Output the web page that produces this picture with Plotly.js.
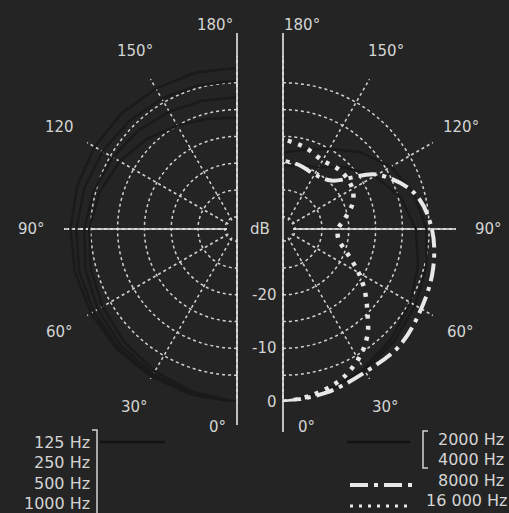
<!DOCTYPE html>
<html><head><meta charset="utf-8">
<script src="https://cdn.plot.ly/plotly-3.0.1.min.js"></script>
<style>html,body{margin:0;padding:0;background:#242424;}#c{width:509px;height:513px;}</style>
</head><body><div id="c"></div>
<script>
// ---- data (dB relative to 0°, angle in degrees from the front axis) ----
const thetaLow = [0,15,30,45,60,75,90,105,120,135,150,165,180];
const hz125  = [0,-0.2,-0.4,-0.6,-0.8,-1.0,-1.2,-1.4,-1.6,-1.8,-2.0,-2.1,-2.2];
const hz250  = [0,-0.3,-0.6,-1.0,-1.4,-1.8,-2.3,-2.8,-3.3,-3.8,-4.2,-4.5,-4.6];
const hz500  = [0,-0.5,-1.0,-1.6,-2.3,-3.0,-3.8,-4.6,-5.5,-6.3,-7.0,-7.5,-7.7];
const hz1000 = [0,-0.8,-1.6,-2.5,-3.3,-4.0,-4.7,-5.7,-7.0,-8.5,-10.0,-11.0,-11.5];

const thetaHigh = [0,15,30,45,60,75,90,105,120,135,150,165,180];
const hz2000 = [0,-0.8,-1.8,-2.8,-3.8,-4.6,-5.5,-7.0,-9.0,-12.0,-15.0,-17.0,-18.0];
const hz4000 = [0,-1.0,-2.2,-3.5,-4.8,-6.2,-7.5,-9.5,-12.5,-16.0,-19.0,-20.0,-20.5];
const hz8000 = [0,-0.7,-1.5,-1.5,-2.5,-3.3,-4.5,-6.8,-12.0,-19.5,-20.5,-20.0,-19.5];

const theta16k = [0,10,20,25,30,35,40,45,50,55,60,65,70,75,80,90,100,110,120,135,150,165,180];
const hz16000 = [0,-0.8,-2.0,-3.0,-4.2,-5.7,-7.6,-10.0,-12.0,-14.0,-16.0,-18.0,-19.7,-21.0,-21.8,-22.0,-20.5,-18.5,-17.3,-17.0,-17.5,-16.5,-15.5];

const angleTicks = [0,30,60,90,120,150,180];
const angleTextLeft  = ['0°','30°','60°','90°','120','150°','180°'];
const angleTextRight = ['0°','30°','60°','90°','120°','150°','180°'];
const dbTicks = [-30,-25,-20,-15,-10,-5,0];
const dbLabelVals = [-20,-10,0];
const dbLabelText = ['-20','-10','0'];
const legendLeft  = ['125 Hz','250 Hz','500 Hz','1000 Hz'];
const legendRight = ['2000 Hz','4000 Hz','8000 Hz','16 000 Hz'];

// ---- layout geometry (pixels) ----
const W=509, H=513, CXL=237, CXR=283, CY=229, R=173;
const RMIN=-30.4, HOLE=0.058;
const px = x => x/W, py = y => 1 - y/H;
const TXT = '#d4d4d4', GRID = '#d2d2d2', LINE = '#e8e8e8', FONT = 'DejaVu Sans, sans-serif';
const mir = a => a.map(v => 360 - v);   // left half runs clockwise: mirror the angles

function polarLayout(xd, sector, ticks){
  return {
    domain:{x:xd, y:[py(CY+R), py(CY-R)]},
    sector: sector, hole: HOLE, bgcolor:'rgba(0,0,0,0)',
    angularaxis:{rotation:270, direction:'counterclockwise', tickvals:ticks, showticklabels:false, ticks:'',
      showline:false, gridcolor:GRID, gridwidth:1.5, griddash:'dot'},
    radialaxis:{range:[RMIN,0], tickvals:dbTicks, showticklabels:false, ticks:'',
      showline:false, gridcolor:GRID, gridwidth:1.5, griddash:'dot'}
  };
}

const black = {color:'#1a1a1a', width:2.4};
const traces = [
  {type:'scatterpolar', subplot:'polar', r:[RMIN,0], theta:mir([90,90]), mode:'lines', line:{color:LINE,width:1.5}, hoverinfo:'skip'},
  {type:'scatterpolar', subplot:'polar2', r:[RMIN,0], theta:[90,90], mode:'lines', line:{color:LINE,width:1.5}, hoverinfo:'skip'},
  {type:'scatterpolar', subplot:'polar', name:'125 Hz', r:hz125, theta:mir(thetaLow), mode:'lines', line:black},
  {type:'scatterpolar', subplot:'polar', name:'250 Hz', r:hz250, theta:mir(thetaLow), mode:'lines', line:black},
  {type:'scatterpolar', subplot:'polar', name:'500 Hz', r:hz500, theta:mir(thetaLow), mode:'lines', line:black},
  {type:'scatterpolar', subplot:'polar', name:'1000 Hz', r:hz1000, theta:mir(thetaLow), mode:'lines', line:black},
  {type:'scatterpolar', subplot:'polar2', name:'2000 Hz', r:hz2000, theta:thetaHigh, mode:'lines', line:black},
  {type:'scatterpolar', subplot:'polar2', name:'4000 Hz', r:hz4000, theta:thetaHigh, mode:'lines', line:black},
  {type:'scatterpolar', subplot:'polar2', name:'8000 Hz', r:hz8000, theta:thetaHigh, mode:'lines',
    line:{color:LINE, width:4, dash:'18px,6px,4px,6px', shape:'spline'}},
  {type:'scatterpolar', subplot:'polar2', name:'16 000 Hz', r:hz16000, theta:theta16k, mode:'lines',
    line:{color:LINE, width:4.5, dash:'4px,7px', shape:'spline'}}
];

const ann = [];
const rad = Math.PI/180;
angleTicks.forEach((a,i)=>{
  let xl, xr, y;
  if (a===0){ xl=CXL-20; xr=CXR+23; y=CY+198; }
  else if (a===180){ xl=CXL-22; xr=CXR+19; y=CY-204; }
  else { xl=CXL-205*Math.sin(a*rad); xr=CXR+205*Math.sin(a*rad); y=CY+205*Math.cos(a*rad); }
  ann.push({x:px(xl), y:py(y), text:angleTextLeft[i]});
  ann.push({x:px(xr), y:py(y), text:angleTextRight[i]});
});
// radial dB labels on the front axis of the right half
const rpx = v => R*(HOLE + (1-HOLE)*(v-RMIN)/(0-RMIN));
dbLabelVals.forEach((v,i)=>ann.push({x:px(CXR-4), y:py(CY+rpx(v)), text:dbLabelText[i], xanchor:'right'}));
ann.forEach(a=>Object.assign(a,{xref:'paper',yref:'paper',showarrow:false,yanchor:'middle',font:{family:FONT,size:15,color:TXT}}, a.xanchor?{}:{xanchor:'center'}));
ann.push({x:px((CXL+CXR)/2), y:py(CY), xref:'paper', yref:'paper', showarrow:false, text:'dB', font:{family:FONT,size:15,color:TXT}});
legendLeft.forEach((t,i)=>ann.push({x:px(92), y:py(442+20.5*i), xref:'paper', yref:'paper', showarrow:false, xanchor:'right', yanchor:'middle', text:t, font:{family:FONT,size:16,color:TXT}}));
legendRight.forEach((t,i)=>ann.push({x:px(i===3?424:436), y:py(439+20.5*i), xref:'paper', yref:'paper', showarrow:false, xanchor:'left', yanchor:'middle', text:t, font:{family:FONT,size:16,color:TXT}}));

const shapes = [
  {type:'line', xref:'paper', yref:'paper', x0:px(CXL), x1:px(CXL), y0:py(33), y1:py(425), line:{color:LINE,width:1.6}},
  {type:'line', xref:'paper', yref:'paper', x0:px(CXR), x1:px(CXR), y0:py(33), y1:py(432), line:{color:LINE,width:1.6}},
  {type:'line', xref:'paper', yref:'paper', x0:px(100), x1:px(165), y0:py(442), y1:py(442), line:{color:'#121212',width:2.5}},
  {type:'line', xref:'paper', yref:'paper', x0:px(347), x1:px(410), y0:py(442), y1:py(442), line:{color:'#121212',width:2.5}},
  {type:'line', xref:'paper', yref:'paper', x0:px(350), x1:px(413), y0:py(485), y1:py(485), line:{color:LINE,width:4,dash:'18px,6px,4px,6px'}},
  {type:'line', xref:'paper', yref:'paper', x0:px(350), x1:px(412), y0:py(506), y1:py(506), line:{color:LINE,width:3,dash:'3px,6px'}},
  {type:'path', xref:'paper', yref:'paper', path:`M ${px(92)},${py(430)} L ${px(97)},${py(430)} L ${px(97)},${py(513)}`, line:{color:TXT,width:1.5}},
  {type:'path', xref:'paper', yref:'paper', path:`M ${px(428)},${py(431)} L ${px(423)},${py(431)} L ${px(423)},${py(468)} L ${px(428)},${py(468)}`, line:{color:TXT,width:1.5}}
];

const layout = {
  width:W, height:H, margin:{l:0,r:0,t:0,b:0},
  paper_bgcolor:'#242424', plot_bgcolor:'#242424', showlegend:false,
  polar: polarLayout([px(CXL-R), px(CXL)], [90,270], mir(angleTicks)),
  polar2: polarLayout([px(CXR), px(CXR+R)], [-90,90], angleTicks),
  annotations: ann, shapes: shapes
};
Plotly.newPlot('c', traces, layout, {staticPlot:true});
</script></body></html>
